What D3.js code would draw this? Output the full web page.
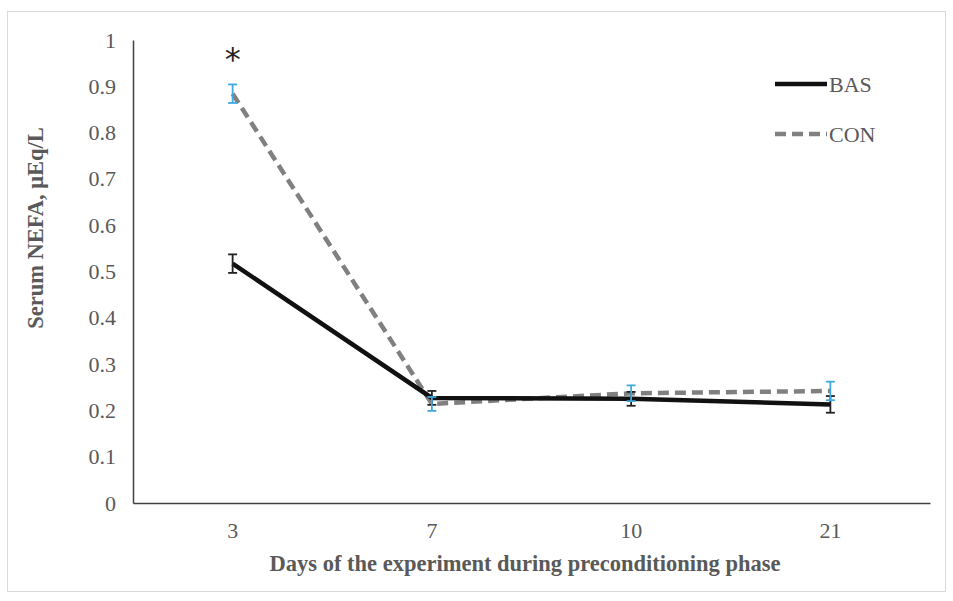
<!DOCTYPE html>
<html><head><meta charset="utf-8">
<script src="https://cdn.jsdelivr.net/npm/d3@7"></script>
<style>body{margin:0;background:#fff}svg{display:block}</style>
</head><body>
<script>
const days = ["3", "7", "10", "21"];
const basValues = [0.517, 0.227, 0.225, 0.213];
const basErrors = [0.02, 0.015, 0.015, 0.018];
const conValues = [0.884, 0.214, 0.237, 0.242];
const conErrors = [0.02, 0.015, 0.017, 0.02];
const yTicks = [0, 0.1, 0.2, 0.3, 0.4, 0.5, 0.6, 0.7, 0.8, 0.9, 1];
const tickLabels = ["0", "0.1", "0.2", "0.3", "0.4", "0.5", "0.6", "0.7", "0.8", "0.9", "1"];

const W = 953, H = 601;
const svg = d3.select("body").append("svg").attr("width", W).attr("height", H);
svg.append("rect").attr("x", 7.5).attr("y", 11.5).attr("width", 938).attr("height", 580)
  .attr("fill", "#fff").attr("stroke", "#d9d9d9");

const x = d3.scaleBand().domain(days).range([133, 930]);
const y = d3.scaleLinear().domain([0, 1]).range([503, 40]);
const cx = d => x(d) + x.bandwidth() / 2;
const txt = "#595959";
const font = "'Liberation Serif','Times New Roman',serif";

// axes
const yAxis = svg.append("g").attr("transform", "translate(133,0)")
  .call(d3.axisLeft(y).tickValues(yTicks).tickFormat((d, i) => tickLabels[i]).tickSize(0).tickPadding(17));
yAxis.select(".domain").attr("stroke", "#404040").attr("stroke-width", 1.5);
yAxis.selectAll("text").attr("fill", txt).style("font-family", font).style("font-size", "22px");

const xAxis = svg.append("g").attr("transform", "translate(0,503)")
  .call(d3.axisBottom(x).tickSize(0).tickPadding(19));
xAxis.select(".domain").attr("stroke", "#404040").attr("stroke-width", 1.5);
xAxis.selectAll("text").attr("fill", txt).style("font-family", font).style("font-size", "22px");

// titles
svg.append("text").attr("x", 525).attr("y", 571).attr("text-anchor", "middle")
  .attr("fill", txt).style("font-family", font).style("font-size", "22.5px").style("font-weight", "bold")
  .text("Days of the experiment during preconditioning phase");
svg.append("text").attr("transform", "translate(43,228) rotate(-90)").attr("text-anchor", "middle")
  .attr("fill", txt).style("font-family", font).style("font-size", "22.5px").style("font-weight", "bold")
  .text("Serum NEFA, μEq/L");

// lines
const line = d3.line().x((d, i) => cx(days[i])).y(d => y(d));
svg.append("path").datum(conValues).attr("d", line).attr("fill", "none")
  .attr("stroke", "#808080").attr("stroke-width", 4.5).attr("stroke-dasharray", "11,6");
svg.append("path").datum(basValues).attr("d", line).attr("fill", "none")
  .attr("stroke", "#111").attr("stroke-width", 4.5);

// error bars
function errBars(vals, errs, color) {
  const g = svg.append("g").attr("stroke", color).attr("stroke-width", 1.8);
  vals.forEach((v, i) => {
    const xx = cx(days[i]);
    g.append("line").attr("x1", xx).attr("x2", xx).attr("y1", y(v - errs[i])).attr("y2", y(v + errs[i]));
    [v - errs[i], v + errs[i]].forEach(e => {
      g.append("line").attr("x1", xx - 4.5).attr("x2", xx + 4.5).attr("y1", y(e)).attr("y2", y(e));
    });
  });
}
errBars(basValues, basErrors, "#222");
errBars(conValues, conErrors, "#3fa9e0");

// asterisk
svg.append("text").attr("x", cx("3")).attr("y", 70).attr("text-anchor", "middle")
  .attr("fill", "#222").style("font-family", "'DejaVu Sans',sans-serif").style("font-size", "32px").text("*");

// legend
const legend = [["BAS", "#111", null], ["CON", "#808080", "11,6"]];
legend.forEach((l, i) => {
  const ly = 84 + i * 50;
  svg.append("line").attr("x1", 775).attr("x2", 827).attr("y1", ly).attr("y2", ly)
    .attr("stroke", l[1]).attr("stroke-width", 4.5).attr("stroke-dasharray", l[2]);
  svg.append("text").attr("x", 829).attr("y", ly + 7.5).attr("fill", txt)
    .style("font-family", font).style("font-size", "22px").text(l[0]);
});
</script>
</body></html>
